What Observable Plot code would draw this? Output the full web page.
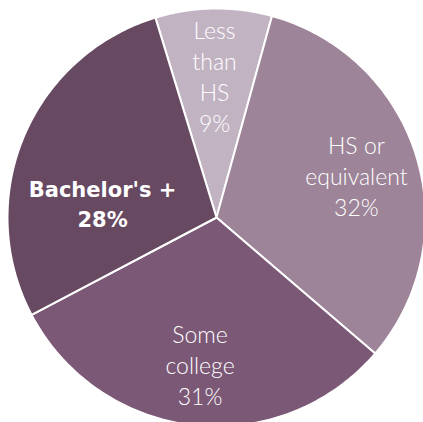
<!DOCTYPE html>
<html>
<head>
<meta charset="utf-8">
<script src="https://cdn.jsdelivr.net/npm/d3@7"></script>
<script src="https://cdn.jsdelivr.net/npm/@observablehq/plot@0.6"></script>
<style>
  html, body { margin: 0; padding: 0; background: #fff; }
  #chart svg { display: block; }
</style>
</head>
<body>
<div id="chart"></div>
<script>
// ---- data ----
const categories = ["Less than HS", "HS or equivalent", "Some college", "Bachelor's +"];
const values = [9, 32, 31, 28];
const labelLines = [
  ["Less", "than", "HS", "9%"],
  ["HS or", "equivalent", "32%"],
  ["Some", "college", "31%"],
  ["Bachelor's +", "28%"]
];

// ---- layout / style (not data) ----
const palette = ["#c2b3c2", "#9d8498", "#7b5876", "#674962"];
const startDeg = -17;
const labelRadius = [0.68, 0.70, 0.705, 0.55];
const labelNudgeDeg = [0, 0, 0, -15];
const boldLabel = [false, false, false, true];

const rad = Math.PI / 180;
const arcs = d3.pie().sort(null)
  .startAngle(startDeg * rad)
  .endAngle((startDeg + 360) * rad)(values);

// slice outlines in unit-circle data space (y up, angle clockwise from top)
const slicePts = [];
arcs.forEach((a, i) => {
  slicePts.push({cat: categories[i], x: 0, y: 0});
  const n = 120;
  for (let k = 0; k <= n; k++) {
    const t = a.startAngle + (a.endAngle - a.startAngle) * k / n;
    slicePts.push({cat: categories[i], x: Math.sin(t), y: Math.cos(t)});
  }
});

const labels = arcs.map((a, i) => {
  const mid = (a.startAngle + a.endAngle) / 2 + labelNudgeDeg[i] * rad;
  return {
    cat: categories[i],
    text: labelLines[i].join("\n"),
    x: labelRadius[i] * Math.sin(mid),
    y: labelRadius[i] * Math.cos(mid),
    bold: boldLabel[i]
  };
});

const R = 209;
const chart = Plot.plot({
  width: 423,
  height: 422,
  margin: 0,
  x: {domain: [-216 / R, 207 / R], axis: null},
  y: {domain: [-205 / R, 217 / R], axis: null},
  color: {domain: categories, range: palette},
  marks: [
    Plot.line(slicePts, {
      x: "x", y: "y", z: "cat", fill: "cat",
      curve: "linear-closed",
      stroke: "white", strokeWidth: 2, strokeLinejoin: "round"
    }),
    Plot.text(labels.filter(d => !d.bold), {
      x: "x", y: "y", text: "text",
      fill: "white", fontSize: 23, fontWeight: 300,
      lineHeight: 1.35, lineAnchor: "middle",
      fontFamily: "Lato, 'Open Sans', sans-serif"
    }),
    Plot.text(labels.filter(d => d.bold), {
      x: "x", y: "y", text: "text",
      fill: "white", fontSize: 21, fontWeight: 700,
      lineHeight: 1.43, lineAnchor: "middle",
      fontFamily: "'DejaVu Sans', sans-serif"
    })
  ]
});
document.getElementById("chart").appendChild(chart);
</script>
</body>
</html>
